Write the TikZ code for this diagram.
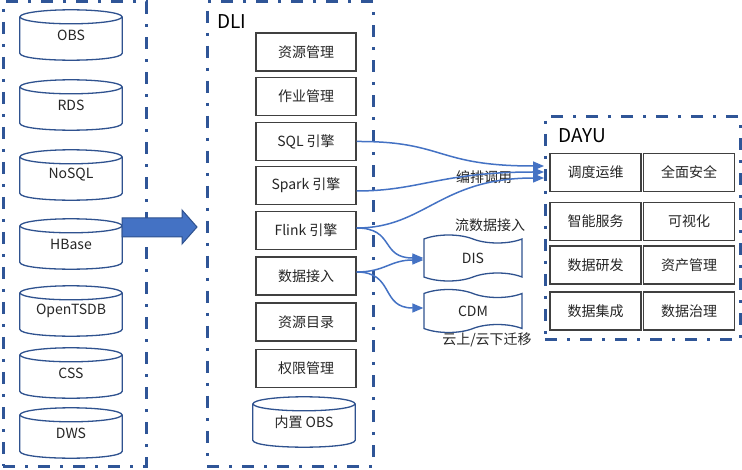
\documentclass[tikz,border=0pt]{standalone}
\usepackage{fontspec}
\setmainfont{Noto Sans CJK SC}
\usetikzlibrary{shapes.symbols,arrows.meta,calc}
\definecolor{frameblue}{HTML}{2F5597}
\definecolor{linkblue}{HTML}{4472C4}
\definecolor{cylblue}{HTML}{2F528F}
\definecolor{txt}{HTML}{262626}
\begin{document}
\begin{tikzpicture}[x=1pt,y=-1pt,
  frame/.style={draw=frameblue, line width=3pt, dash pattern=on 12pt off 10pt on 3pt off 10pt, inner sep=0pt},
  box/.style={draw=black!75, line width=1.1pt, minimum width=100pt, minimum height=38pt, inner sep=0pt, text=txt, font=\fontsize{14}{14}\selectfont},
  dbox/.style={box, minimum width=91pt},
  cyl/.style={minimum width=102pt, minimum height=50pt, inner sep=0pt, text=txt, font=\fontsize{14}{14}\selectfont},
  cylline/.style={draw=cylblue, line width=1.3pt},
  tapebox/.style={tape, draw=cylblue, line width=1.3pt, minimum width=98pt, inner sep=0pt, tape bend top=out and in, tape bend bottom=in and out, tape bend height=8pt, text=txt, font=\fontsize{14}{14}\selectfont},
  title/.style={anchor=west, inner sep=0pt, text=black, font=\fontsize{19}{19}\selectfont},
  lbl/.style={inner sep=0pt, text=txt, font=\fontsize{14}{14}\selectfont},
  link/.style={draw=linkblue, line width=1.5pt, -{Triangle[length=11pt,width=9pt]}}
]
\useasboundingbox (0,0) rectangle (742,470);
\fill[white] (0,0) rectangle (742,470);

% frames
\node[frame, minimum width=143pt, minimum height=464pt] (src) at (74.5,234) {};
\node[frame, minimum width=166pt, minimum height=464pt] (dli) at (290,234) {};
\node[frame, minimum width=195pt, minimum height=223pt] (dayu) at (642.5,228.5) {};

% sources
\node[cyl] (obs) at (71,35) {OBS};
\node[cyl] (rds) at (71,105) {RDS};
\node[cyl] (nosql) at (71,175) {NoSQL};
\node[cyl] (hbase) at (71,244) {HBase};
\node[cyl] (tsdb) at (71,311) {OpenTSDB};
\node[cyl] (css) at (71,373) {CSS};
\node[cyl] (dws) at (71,433) {DWS};

% DLI
\node[title] (dlit) at (217,22) {DLI};
\node[box] (res) at (306,52) {资源管理};
\node[box] (job) at (306,96.5) {作业管理};
\node[box] (sql) at (306,141.5) {SQL 引擎};
\node[box] (spark) at (306,185.5) {Spark 引擎};
\node[box] (flink) at (306,230.5) {Flink 引擎};
\node[box] (ingest) at (306,276) {数据接入};
\node[box] (cat) at (306,322) {资源目录};
\node[box] (perm) at (306,368.5) {权限管理};
\node[cyl] (iobs) at (304,422) {内置 OBS};

\foreach \n in {obs,rds,nosql,hbase,tsdb,css,dws,iobs}{
  \draw[cylline] ($(\n.north)+(0,7)$) ellipse [x radius=51pt, y radius=7pt];
  \draw[cylline] ($(\n.north west)+(0,7)$) -- ($(\n.south west)+(0,-7)$)
     .. controls +(0,9.33) and +(0,9.33) .. ($(\n.south east)+(0,-7)$) -- ($(\n.north east)+(0,7)$);
}

% DAYU
\node[title] (dayut) at (558,136) {DAYU};
\node[dbox] (ops) at (595.5,172.5) {调度运维};
\node[dbox] (sec) at (689,172.5) {全面安全};
\node[dbox] (smart) at (595.5,221.5) {智能服务};
\node[dbox] (vis) at (689,221.5) {可视化};
\node[dbox] (dev) at (595.5,265) {数据研发};
\node[dbox] (asset) at (689,265) {资产管理};
\node[dbox] (integ) at (595.5,311) {数据集成};
\node[dbox] (gov) at (689,311) {数据治理};

% DIS / CDM
\node[tapebox, minimum height=46pt] (dis) at (473,258) {DIS};
\node[tapebox, minimum height=43pt] (cdm) at (473,311) {CDM};

% labels
\node[lbl] (l1) at (484,177) {编排调用};
\node[lbl] (l2) at (490,225) {流数据接入};
\node[lbl] (l3) at (487,340) {云上/云下迁移};

% big arrow
\filldraw[fill=linkblue, draw=cylblue, line width=1pt]
  (122,218) -- (182,218) -- (182,210) -- (197,227) -- (182,244) -- (182,237) -- (122,237) -- cycle;

% connectors
\coordinate (e1) at (544,166);
\coordinate (e2) at (544,172);
\coordinate (e3) at (544,178);
\draw[link] (sql.east) .. controls (445,141) and (435,166) .. (e1);
\draw[link] ($(spark.east)+(0,5.5)$) .. controls (420,191) and (440,172) .. (e2);
\draw[link] ($(flink.east)+(0,-2.5)$) .. controls (425,228) and (440,178) .. (e3);
\draw[link] ($(flink.east)+(0,-2.5)$) .. controls (395,228) and (380,258) .. ($(dis.west)+(0,0)$);
\draw[link] ($(ingest.east)+(0,-4)$) .. controls (385,272) and (390,260) .. ($(dis.west)+(0,2)$);
\draw[link] ($(ingest.east)+(0,-4)$) .. controls (395,272) and (380,308) .. ($(cdm.west)+(0,-3)$);
\end{tikzpicture}
\end{document}
